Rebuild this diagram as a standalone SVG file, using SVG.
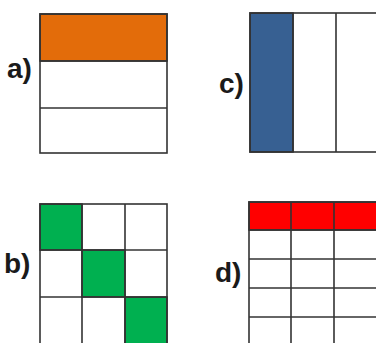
<svg xmlns="http://www.w3.org/2000/svg" width="376" height="343" viewBox="0 0 376 343">
<style>
.lbl{font-family:"Liberation Sans",Arial,sans-serif;font-weight:bold;font-size:28px;fill:#1a1a1a}
.ln{stroke:#333;stroke-width:1.6;fill:none}
.cell{stroke:#333;stroke-width:1.6}
</style>
<rect width="376" height="343" fill="#fff"/>
<g id="a">
<rect x="40" y="14" width="127" height="47" fill="#E36C0A" class="cell"/>
<rect x="40" y="14" width="127" height="139" class="ln"/>
<line x1="40" y1="61" x2="167" y2="61" class="ln"/>
<line x1="40" y1="108" x2="167" y2="108" class="ln"/>
<text x="7" y="78" class="lbl">a)</text>
</g>
<g id="c">
<rect x="250" y="13" width="43" height="139" fill="#376092" class="cell"/>
<rect x="250" y="13" width="140" height="139" class="ln"/>
<line x1="293" y1="13" x2="293" y2="152" class="ln"/>
<line x1="336" y1="13" x2="336" y2="152" class="ln"/>
<text x="219" y="93" class="lbl">c)</text>
</g>
<g id="b">
<rect x="40" y="204" width="42" height="46" fill="#00B050" class="cell"/>
<rect x="82" y="250" width="43" height="47" fill="#00B050" class="cell"/>
<rect x="125" y="297" width="42" height="50" fill="#00B050" class="cell"/>
<rect x="40" y="204" width="127" height="150" class="ln"/>
<line x1="82" y1="204" x2="82" y2="343" class="ln"/>
<line x1="125" y1="204" x2="125" y2="343" class="ln"/>
<line x1="40" y1="250" x2="167" y2="250" class="ln"/>
<line x1="40" y1="297" x2="167" y2="297" class="ln"/>
<text x="4" y="273" class="lbl">b)</text>
</g>
<g id="d">
<rect x="249" y="202" width="140" height="28" fill="#FF0000" class="cell"/>
<rect x="249" y="202" width="140" height="150" class="ln"/>
<line x1="291" y1="202" x2="291" y2="343" class="ln"/>
<line x1="334" y1="202" x2="334" y2="343" class="ln"/>
<line x1="249" y1="230" x2="376" y2="230" class="ln"/>
<line x1="249" y1="259" x2="376" y2="259" class="ln"/>
<line x1="249" y1="288" x2="376" y2="288" class="ln"/>
<line x1="249" y1="317" x2="376" y2="317" class="ln"/>
<text x="215" y="282" class="lbl">d)</text>
</g>
</svg>
